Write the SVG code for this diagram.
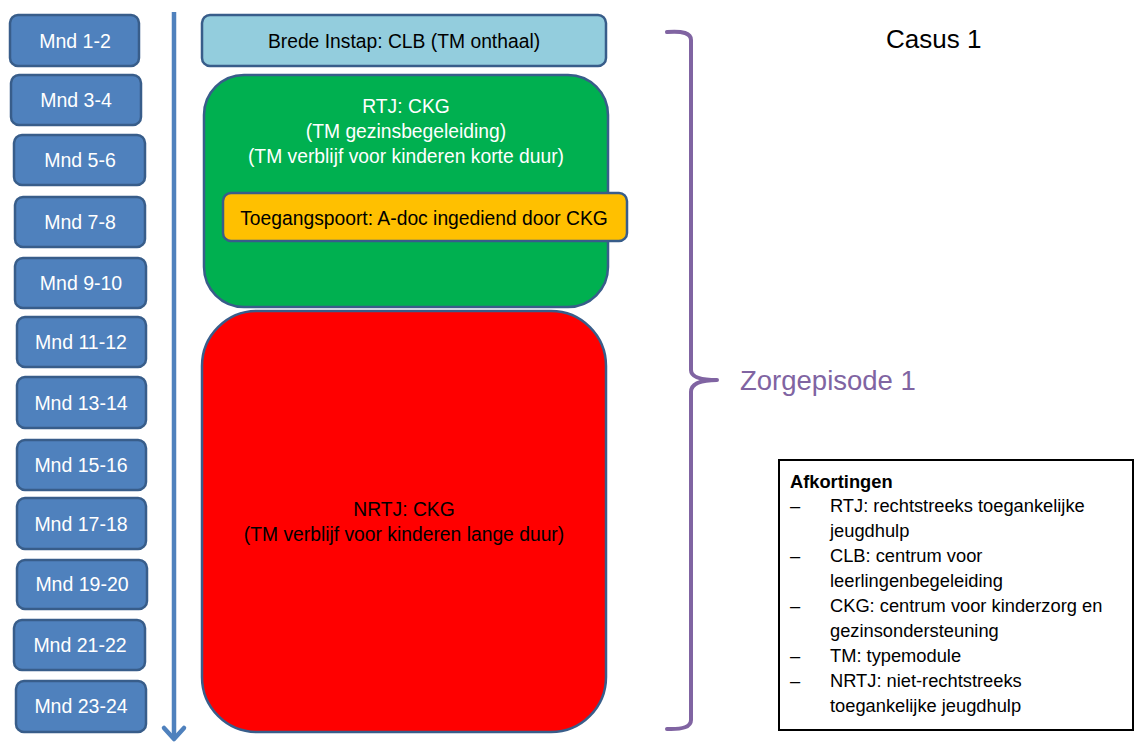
<svg xmlns="http://www.w3.org/2000/svg" width="1135" height="744" viewBox="0 0 1135 744">
<style>
.mb rect{fill:#4f81bd;stroke:#385d8a;stroke-width:2.5}
.mb text{fill:#fff;font-family:"Liberation Sans",Arial,sans-serif;font-size:19.5px;text-anchor:middle}
.t{font-family:"Liberation Sans",Arial,sans-serif;font-size:19.3px;text-anchor:middle}
.lg{font-family:"Liberation Sans",Arial,sans-serif;font-size:18.3px;fill:#000}
</style>
<rect width="1135" height="744" fill="#fff"/>
<g id="connectors">
<line x1="174" y1="12" x2="174" y2="739" stroke="#4f81bd" stroke-width="4.5"/>
<polyline points="164,728 174,739 184,728" fill="none" stroke="#4f81bd" stroke-width="4.5" stroke-linecap="round" stroke-linejoin="round"/>
</g>
<g id="m1" class="mb"><rect x="10" y="15" width="129" height="51" rx="8"/><text x="75" y="48">Mnd 1-2</text></g>
<g id="m2" class="mb"><rect x="11" y="75" width="130" height="50" rx="8"/><text x="76" y="107">Mnd 3-4</text></g>
<g id="m3" class="mb"><rect x="14" y="135" width="131" height="50" rx="8"/><text x="80" y="167">Mnd 5-6</text></g>
<g id="m4" class="mb"><rect x="15" y="197" width="130" height="50" rx="8"/><text x="80" y="229">Mnd 7-8</text></g>
<g id="m5" class="mb"><rect x="15" y="258" width="131" height="50" rx="8"/><text x="81" y="290">Mnd 9-10</text></g>
<g id="m6" class="mb"><rect x="17" y="317" width="129" height="50" rx="8"/><text x="81" y="349">Mnd 11-12</text></g>
<g id="m7" class="mb"><rect x="17" y="377" width="129" height="51" rx="8"/><text x="81" y="410">Mnd 13-14</text></g>
<g id="m8" class="mb"><rect x="17" y="440" width="129" height="50" rx="8"/><text x="81" y="472">Mnd 15-16</text></g>
<g id="m9" class="mb"><rect x="17" y="498" width="129" height="51" rx="8"/><text x="81" y="531">Mnd 17-18</text></g>
<g id="m10" class="mb"><rect x="17" y="560" width="130" height="49" rx="8"/><text x="82" y="591">Mnd 19-20</text></g>
<g id="m11" class="mb"><rect x="14" y="620" width="131" height="50" rx="8"/><text x="80" y="652">Mnd 21-22</text></g>
<g id="m12" class="mb"><rect x="16" y="681" width="130" height="51" rx="8"/><text x="81" y="713">Mnd 23-24</text></g>
<g id="brede"><rect x="202" y="15" width="404" height="51" rx="8" fill="#93cddd" stroke="#385d8a" stroke-width="2.5"/><text class="t" x="404" y="48" fill="#000" font-size="18.4">Brede Instap: CLB (TM onthaal)</text></g>
<g id="rtj"><rect x="204" y="75" width="404" height="232" rx="40" fill="#00b050" stroke="#385d8a" stroke-width="2.5"/>
<text class="t" x="406" y="113" fill="#fff">RTJ: CKG</text>
<text class="t" x="406" y="138" fill="#fff">(TM gezinsbegeleiding)</text>
<text class="t" x="406" y="163" fill="#fff">(TM verblijf voor kinderen korte duur)</text></g>
<g id="toegang"><rect x="223" y="193" width="404" height="48" rx="8" fill="#ffc000" stroke="#385d8a" stroke-width="2.5"/><text class="t" x="424" y="225" fill="#000" font-size="18.1">Toegangspoort: A-doc ingediend door CKG</text></g>
<g id="nrtj"><rect x="202" y="311" width="404" height="421" rx="55" fill="#ff0000" stroke="#385d8a" stroke-width="2.5"/>
<text class="t" x="404" y="516" fill="#000">NRTJ: CKG</text>
<text class="t" x="404" y="541" fill="#000">(TM verblijf voor kinderen lange duur)</text></g>
<g id="brace"><path d="M667,32 Q691,30 691,40 L691,370 Q691,380 717,380 Q691,380 691,392 L691,720 Q691,730 667,729" fill="none" stroke="#8064a2" stroke-width="4" stroke-linecap="round" stroke-linejoin="round"/></g>
<text x="886" y="48" font-family="Liberation Sans,Arial,sans-serif" font-size="26" fill="#000">Casus 1</text>
<text x="740" y="390" font-family="Liberation Sans,Arial,sans-serif" font-size="27.5" fill="#8064a2">Zorgepisode 1</text>
<g id="legend"><rect x="779" y="460" width="354" height="270" fill="#fff" stroke="#000" stroke-width="2"/>
<text class="lg" x="790" y="488" font-weight="bold" font-size="17.6">Afkortingen</text>
<text class="lg" x="790" y="512">–</text><text class="lg" x="830" y="512">RTJ: rechtstreeks toegankelijke</text>
<text class="lg" x="830" y="537">jeugdhulp</text>
<text class="lg" x="790" y="562">–</text><text class="lg" x="830" y="562">CLB: centrum voor</text>
<text class="lg" x="830" y="587">leerlingenbegeleiding</text>
<text class="lg" x="790" y="612">–</text><text class="lg" x="830" y="612">CKG: centrum voor kinderzorg en</text>
<text class="lg" x="830" y="637">gezinsondersteuning</text>
<text class="lg" x="790" y="662">–</text><text class="lg" x="830" y="662">TM: typemodule</text>
<text class="lg" x="790" y="687">–</text><text class="lg" x="830" y="687">NRTJ: niet-rechtstreeks</text>
<text class="lg" x="830" y="712">toegankelijke jeugdhulp</text></g>
</svg>
